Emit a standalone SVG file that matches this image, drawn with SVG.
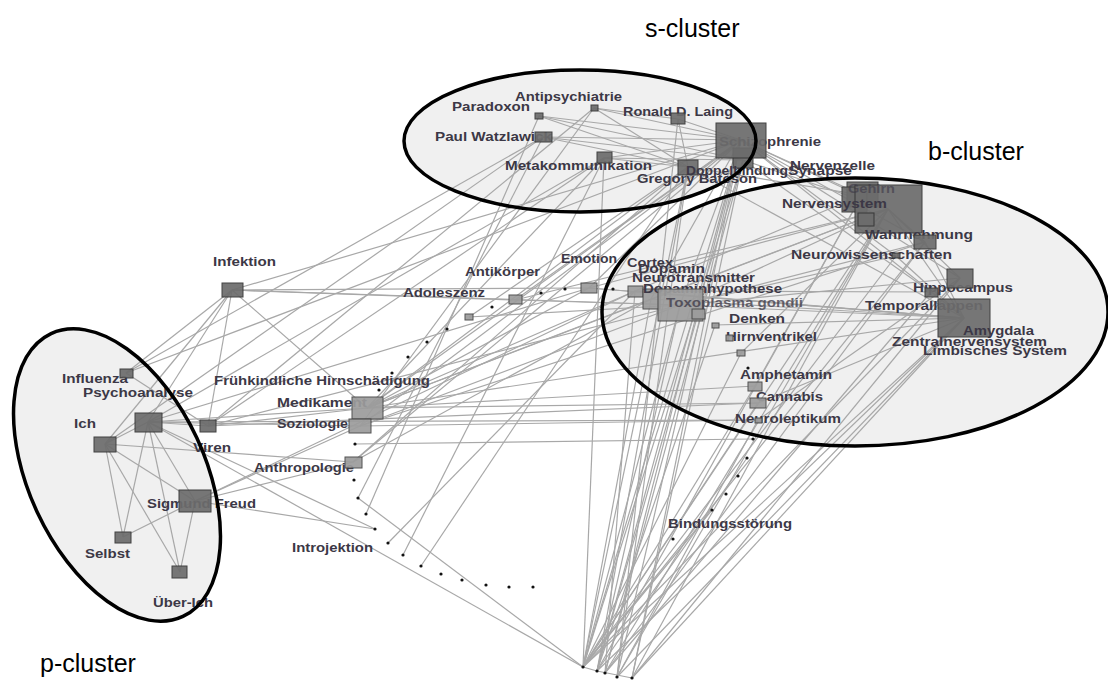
<svg xmlns="http://www.w3.org/2000/svg" width="1108" height="680" viewBox="0 0 1108 680">
<style>
.cf{fill:#f0f0f0;stroke:none}
.co{fill:none;stroke:#000;stroke-width:3.5}
.e line{stroke:#a8a8a8;stroke-width:1.2}
.d{fill:#6c6c6c;stroke:#333;stroke-width:1;opacity:0.92}
.l{fill:#9c9c9c;stroke:#444;stroke-width:1;opacity:0.92}
.t{font-family:"Liberation Sans",Arial,sans-serif;font-weight:bold;font-size:13px;fill:#3c3846}
.cl{font-family:"Liberation Sans",Arial,sans-serif;font-size:25px;fill:#000}
.dot{fill:#111}
</style>
<rect width="1108" height="680" fill="#fff"/>
<ellipse class="cf" cx="580" cy="141" rx="176" ry="71"/>
<ellipse class="cf" cx="855" cy="312" rx="253" ry="134"/>
<ellipse class="cf" cx="117" cy="475" rx="156" ry="88" transform="rotate(65 117 475)"/>
<g id="connectors" class="e">
<line x1="148" y1="422" x2="105" y2="444"/><line x1="148" y1="422" x2="123" y2="537"/><line x1="148" y1="422" x2="180" y2="572"/><line x1="148" y1="422" x2="195" y2="501"/>
<line x1="105" y1="444" x2="123" y2="537"/><line x1="105" y1="444" x2="180" y2="572"/><line x1="105" y1="444" x2="195" y2="501"/>
<line x1="195" y1="501" x2="180" y2="572"/><line x1="195" y1="501" x2="123" y2="537"/>
<line x1="126" y1="373" x2="208" y2="426"/><line x1="126" y1="373" x2="741" y2="140"/><line x1="126" y1="373" x2="543" y2="137"/><line x1="126" y1="373" x2="232" y2="290"/>
<line x1="148" y1="422" x2="208" y2="426"/><line x1="148" y1="422" x2="589" y2="288"/><line x1="148" y1="422" x2="367" y2="408"/><line x1="148" y1="422" x2="360" y2="426"/><line x1="148" y1="422" x2="583" y2="667"/><line x1="148" y1="422" x2="604" y2="158"/><line x1="148" y1="422" x2="375" y2="529"/><line x1="148" y1="422" x2="758" y2="420"/>
<line x1="105" y1="444" x2="543" y2="137"/><line x1="105" y1="444" x2="353" y2="462"/><line x1="105" y1="444" x2="232" y2="290"/>
<line x1="195" y1="501" x2="375" y2="529"/><line x1="195" y1="501" x2="353" y2="462"/><line x1="195" y1="501" x2="360" y2="426"/><line x1="195" y1="501" x2="635" y2="291"/>
<line x1="208" y1="426" x2="680" y2="305"/><line x1="208" y1="426" x2="367" y2="408"/><line x1="208" y1="426" x2="604" y2="158"/><line x1="208" y1="426" x2="594" y2="108"/><line x1="208" y1="426" x2="758" y2="403"/>
<line x1="232" y1="290" x2="589" y2="288"/><line x1="232" y1="290" x2="515" y2="300"/><line x1="232" y1="290" x2="680" y2="305"/><line x1="232" y1="290" x2="741" y2="140"/><line x1="232" y1="290" x2="208" y2="426"/><line x1="232" y1="290" x2="367" y2="408"/><line x1="232" y1="290" x2="148" y2="422"/>
<line x1="367" y1="408" x2="635" y2="291"/><line x1="367" y1="408" x2="589" y2="288"/><line x1="367" y1="408" x2="651" y2="299"/><line x1="367" y1="408" x2="888" y2="209"/><line x1="367" y1="408" x2="758" y2="403"/><line x1="367" y1="408" x2="755" y2="386"/><line x1="367" y1="408" x2="964" y2="318"/><line x1="367" y1="408" x2="604" y2="158"/><line x1="367" y1="408" x2="741" y2="140"/><line x1="367" y1="408" x2="688" y2="167"/>
<line x1="360" y1="426" x2="680" y2="305"/><line x1="360" y1="426" x2="741" y2="140"/><line x1="360" y1="426" x2="758" y2="420"/><line x1="360" y1="426" x2="594" y2="108"/><line x1="360" y1="426" x2="925" y2="242"/>
<line x1="353" y1="462" x2="688" y2="167"/><line x1="353" y1="462" x2="741" y2="140"/><line x1="353" y1="462" x2="651" y2="299"/>
<line x1="355" y1="444" x2="753" y2="439"/><line x1="366" y1="514" x2="539" y2="116"/><line x1="388" y1="543" x2="635" y2="291"/><line x1="403" y1="555" x2="604" y2="158"/><line x1="358" y1="498" x2="583" y2="667"/><line x1="358" y1="498" x2="543" y2="137"/><line x1="421" y1="566" x2="688" y2="167"/>
<line x1="741" y1="140" x2="539" y2="116"/><line x1="741" y1="140" x2="594" y2="108"/><line x1="741" y1="140" x2="543" y2="137"/><line x1="741" y1="140" x2="604" y2="158"/><line x1="741" y1="140" x2="678" y2="119"/><line x1="594" y1="108" x2="678" y2="119"/><line x1="594" y1="108" x2="688" y2="167"/><line x1="539" y1="116" x2="688" y2="167"/><line x1="543" y1="137" x2="688" y2="167"/><line x1="543" y1="137" x2="743" y2="160"/><line x1="604" y1="158" x2="688" y2="167"/><line x1="604" y1="158" x2="743" y2="160"/><line x1="678" y1="119" x2="688" y2="167"/><line x1="539" y1="116" x2="743" y2="160"/>
<line x1="741" y1="140" x2="888" y2="209"/><line x1="741" y1="140" x2="925" y2="242"/><line x1="741" y1="140" x2="960" y2="278"/><line x1="741" y1="140" x2="964" y2="318"/><line x1="741" y1="140" x2="896" y2="256"/><line x1="741" y1="140" x2="862" y2="195"/><line x1="743" y1="160" x2="888" y2="209"/><line x1="688" y1="167" x2="862" y2="195"/><line x1="743" y1="160" x2="931" y2="292"/><line x1="688" y1="167" x2="964" y2="318"/>
<line x1="888" y1="209" x2="680" y2="305"/><line x1="888" y1="209" x2="651" y2="299"/><line x1="862" y1="195" x2="635" y2="291"/><line x1="888" y1="209" x2="589" y2="288"/><line x1="888" y1="209" x2="960" y2="278"/><line x1="888" y1="209" x2="964" y2="318"/><line x1="888" y1="209" x2="925" y2="242"/><line x1="862" y1="195" x2="755" y2="386"/><line x1="888" y1="209" x2="741" y2="353"/><line x1="925" y1="242" x2="680" y2="305"/><line x1="925" y1="242" x2="964" y2="318"/><line x1="896" y1="256" x2="964" y2="318"/><line x1="896" y1="256" x2="680" y2="305"/>
<line x1="964" y1="318" x2="680" y2="305"/><line x1="964" y1="318" x2="651" y2="299"/><line x1="964" y1="318" x2="589" y2="288"/><line x1="960" y1="278" x2="680" y2="305"/><line x1="964" y1="318" x2="715" y2="325"/><line x1="931" y1="292" x2="635" y2="291"/><line x1="964" y1="318" x2="758" y2="403"/><line x1="960" y1="278" x2="758" y2="420"/>
<line x1="680" y1="305" x2="741" y2="140"/><line x1="651" y1="299" x2="741" y2="140"/><line x1="589" y1="288" x2="741" y2="140"/><line x1="515" y1="300" x2="741" y2="140"/><line x1="469" y1="317" x2="688" y2="167"/><line x1="515" y1="300" x2="888" y2="209"/><line x1="589" y1="288" x2="964" y2="318"/><line x1="635" y1="291" x2="964" y2="318"/><line x1="515" y1="300" x2="680" y2="305"/><line x1="469" y1="317" x2="680" y2="305"/>
<line x1="583" y1="667" x2="741" y2="140"/><line x1="583" y1="667" x2="688" y2="167"/><line x1="583" y1="667" x2="743" y2="160"/><line x1="583" y1="667" x2="604" y2="158"/><line x1="583" y1="667" x2="888" y2="209"/><line x1="583" y1="667" x2="925" y2="242"/><line x1="583" y1="667" x2="960" y2="278"/><line x1="583" y1="667" x2="964" y2="318"/><line x1="583" y1="667" x2="680" y2="305"/><line x1="583" y1="667" x2="651" y2="299"/><line x1="583" y1="667" x2="755" y2="386"/><line x1="583" y1="667" x2="758" y2="403"/><line x1="583" y1="667" x2="896" y2="256"/><line x1="583" y1="667" x2="741" y2="353"/><line x1="583" y1="667" x2="712" y2="510"/>
<line x1="597" y1="671" x2="741" y2="140"/><line x1="597" y1="671" x2="688" y2="167"/><line x1="597" y1="671" x2="862" y2="195"/><line x1="597" y1="671" x2="964" y2="318"/><line x1="597" y1="671" x2="680" y2="305"/><line x1="597" y1="671" x2="698" y2="314"/><line x1="597" y1="671" x2="715" y2="325"/><line x1="597" y1="671" x2="747" y2="458"/>
<line x1="605" y1="673" x2="741" y2="140"/><line x1="605" y1="673" x2="743" y2="160"/><line x1="605" y1="673" x2="925" y2="242"/><line x1="605" y1="673" x2="931" y2="292"/><line x1="605" y1="673" x2="635" y2="291"/><line x1="605" y1="673" x2="888" y2="209"/>
<line x1="617" y1="677" x2="741" y2="140"/><line x1="617" y1="677" x2="688" y2="167"/><line x1="617" y1="677" x2="888" y2="209"/><line x1="617" y1="677" x2="758" y2="420"/><line x1="617" y1="677" x2="678" y2="119"/><line x1="617" y1="677" x2="964" y2="318"/>
<line x1="632" y1="678" x2="743" y2="160"/><line x1="632" y1="678" x2="964" y2="318"/><line x1="632" y1="678" x2="960" y2="278"/><line x1="632" y1="678" x2="888" y2="209"/><line x1="632" y1="678" x2="741" y2="140"/>
<line x1="583" y1="667" x2="597" y2="671"/><line x1="597" y1="671" x2="632" y2="678"/>
</g>
<g id="dots">
<circle class="dot" cx="565" cy="289" r="1.6"/><circle class="dot" cx="613" cy="289" r="1.6"/><circle class="dot" cx="541" cy="293" r="1.6"/><circle class="dot" cx="492" cy="307" r="1.6"/><circle class="dot" cx="447" cy="329" r="1.6"/><circle class="dot" cx="427" cy="342" r="1.6"/><circle class="dot" cx="408" cy="357" r="1.6"/><circle class="dot" cx="392" cy="373" r="1.6"/><circle class="dot" cx="379" cy="390" r="1.6"/>
<circle class="dot" cx="355" cy="444" r="1.6"/><circle class="dot" cx="354" cy="480" r="1.6"/><circle class="dot" cx="358" cy="498" r="1.6"/><circle class="dot" cx="366" cy="514" r="1.6"/><circle class="dot" cx="375" cy="529" r="1.6"/><circle class="dot" cx="388" cy="543" r="1.6"/><circle class="dot" cx="403" cy="555" r="1.6"/><circle class="dot" cx="421" cy="566" r="1.6"/><circle class="dot" cx="441" cy="574" r="1.6"/><circle class="dot" cx="462" cy="580" r="1.6"/><circle class="dot" cx="486" cy="585" r="1.6"/><circle class="dot" cx="509" cy="587" r="1.6"/><circle class="dot" cx="533" cy="587" r="1.6"/>
<circle class="dot" cx="583" cy="667" r="1.6"/><circle class="dot" cx="597" cy="671" r="1.6"/><circle class="dot" cx="605" cy="673" r="1.6"/><circle class="dot" cx="617" cy="677" r="1.6"/><circle class="dot" cx="632" cy="678" r="1.6"/>
<circle class="dot" cx="748" cy="368" r="1.6"/><circle class="dot" cx="753" cy="439" r="1.6"/><circle class="dot" cx="747" cy="458" r="1.6"/><circle class="dot" cx="738" cy="476" r="1.6"/><circle class="dot" cx="726" cy="494" r="1.6"/><circle class="dot" cx="712" cy="510" r="1.6"/><circle class="dot" cx="673" cy="539" r="1.6"/>
</g>
<g id="n-antipsychiatrie"><text class="t" x="515" y="101" textLength="107" lengthAdjust="spacingAndGlyphs">Antipsychiatrie</text><rect class="d" x="591" y="105" width="7" height="6"/></g>
<g id="n-paradoxon"><text class="t" x="452" y="111" textLength="78" lengthAdjust="spacingAndGlyphs">Paradoxon</text><rect class="d" x="535" y="113" width="8" height="6"/></g>
<g id="n-laing"><text class="t" x="623" y="116" textLength="110" lengthAdjust="spacingAndGlyphs">Ronald D. Laing</text><rect class="d" x="671" y="113" width="14" height="11"/></g>
<g id="n-watzlawick"><text class="t" x="435" y="141" textLength="117" lengthAdjust="spacingAndGlyphs">Paul Watzlawick</text><rect class="d" x="535" y="132" width="17" height="10"/></g>
<g id="n-synapse"><rect class="d" x="733" y="148" width="20" height="20"/><text class="t" x="788" y="175" textLength="64" lengthAdjust="spacingAndGlyphs">Synapse</text></g>
<g id="n-schizophrenie"><text class="t" x="719" y="146" textLength="102" lengthAdjust="spacingAndGlyphs">Schizophrenie</text><rect class="d" x="716" y="123" width="50" height="35"/></g>
<g id="n-metakommunikation"><text class="t" x="505" y="170" textLength="147" lengthAdjust="spacingAndGlyphs">Metakommunikation</text><rect class="d" x="597" y="152" width="15" height="11"/></g>
<g id="n-doppelbindung"><rect class="d" x="678" y="160" width="20" height="15"/><text class="t" x="686" y="175" textLength="102" lengthAdjust="spacingAndGlyphs">Doppelbindung</text></g>
<g id="n-bateson"><text class="t" x="637" y="183" textLength="120" lengthAdjust="spacingAndGlyphs">Gregory Bateson</text></g>
<g id="n-nervenzelle"><text class="t" x="790" y="170" textLength="85" lengthAdjust="spacingAndGlyphs">Nervenzelle</text></g>
<g id="n-gehirn"><rect class="d" x="847" y="182" width="31" height="25"/><rect class="d" x="842" y="187" width="25" height="25"/><rect class="d" x="855" y="185" width="67" height="48"/><rect class="d" x="858" y="213" width="16" height="13"/><text class="t" x="848" y="193" textLength="47" lengthAdjust="spacingAndGlyphs" opacity="0.6">Gehirn</text></g>
<g id="n-nervensystem"><text class="t" x="782" y="208" textLength="105" lengthAdjust="spacingAndGlyphs">Nervensystem</text></g>
<g id="n-wahrnehmung"><text class="t" x="865" y="239" textLength="108" lengthAdjust="spacingAndGlyphs">Wahrnehmung</text><rect class="d" x="914" y="235" width="22" height="14"/></g>
<g id="n-neurowissenschaften"><text class="t" x="791" y="259" textLength="161" lengthAdjust="spacingAndGlyphs">Neurowissenschaften</text><rect class="d" x="892" y="253" width="8" height="5"/></g>
<g id="n-hippocampus"><text class="t" x="913" y="292" textLength="100" lengthAdjust="spacingAndGlyphs">Hippocampus</text><rect class="d" x="947" y="269" width="26" height="19"/><rect class="d" x="925" y="288" width="13" height="9"/></g>
<g id="n-temporallappen"><text class="t" x="865" y="310" textLength="118" lengthAdjust="spacingAndGlyphs">Temporallappen</text><rect class="d" x="938" y="299" width="52" height="38"/></g>
<g id="n-amygdala"><text class="t" x="963" y="335" textLength="71" lengthAdjust="spacingAndGlyphs">Amygdala</text></g>
<g id="n-zns"><text class="t" x="892" y="346" textLength="155" lengthAdjust="spacingAndGlyphs">Zentralnervensystem</text></g>
<g id="n-limbisch"><text class="t" x="923" y="355" textLength="144" lengthAdjust="spacingAndGlyphs">Limbisches System</text></g>
<g id="n-emotion"><text class="t" x="561" y="263" textLength="56" lengthAdjust="spacingAndGlyphs">Emotion</text><rect class="l" x="581" y="283" width="16" height="10"/></g>
<g id="n-cortex"><text class="t" x="627" y="267" textLength="46" lengthAdjust="spacingAndGlyphs">Cortex</text><rect class="l" x="628" y="286" width="15" height="11"/></g>
<g id="n-dopamin"><text class="t" x="638" y="273" textLength="67" lengthAdjust="spacingAndGlyphs">Dopamin</text></g>
<g id="n-neurotransmitter"><text class="t" x="632" y="282" textLength="123" lengthAdjust="spacingAndGlyphs">Neurotransmitter</text><rect class="l" x="643" y="289" width="17" height="20"/></g>
<g id="n-dopaminhypothese"><text class="t" x="643" y="293" textLength="139" lengthAdjust="spacingAndGlyphs">Dopaminhypothese</text></g>
<g id="n-toxoplasma"><rect class="l" x="658" y="289" width="45" height="32"/><text class="t" x="666" y="307" textLength="137" lengthAdjust="spacingAndGlyphs" opacity="0.75">Toxoplasma gondii</text><rect class="l" x="692" y="309" width="13" height="10"/></g>
<g id="n-denken"><text class="t" x="729" y="323" textLength="56" lengthAdjust="spacingAndGlyphs">Denken</text><rect class="l" x="712" y="323" width="7" height="5"/></g>
<g id="n-hirnventrikel"><text class="t" x="726" y="341" textLength="91" lengthAdjust="spacingAndGlyphs">Hirnventrikel</text><rect class="l" x="726" y="335" width="7" height="6"/><rect class="l" x="737" y="350" width="8" height="6"/></g>
<g id="n-amphetamin"><text class="t" x="740" y="379" textLength="92" lengthAdjust="spacingAndGlyphs">Amphetamin</text><rect class="l" x="748" y="382" width="14" height="9"/></g>
<g id="n-cannabis"><text class="t" x="756" y="401" textLength="67" lengthAdjust="spacingAndGlyphs">Cannabis</text><rect class="l" x="750" y="398" width="16" height="10"/></g>
<g id="n-neuroleptikum"><text class="t" x="735" y="423" textLength="106" lengthAdjust="spacingAndGlyphs">Neuroleptikum</text><rect class="l" x="755" y="418" width="7" height="5"/></g>
<g id="n-antikoerper"><text class="t" x="465" y="276" textLength="75" lengthAdjust="spacingAndGlyphs">Antikörper</text><rect class="l" x="465" y="314" width="8" height="6"/></g>
<g id="n-adoleszenz"><text class="t" x="403" y="297" textLength="82" lengthAdjust="spacingAndGlyphs">Adoleszenz</text><rect class="l" x="509" y="295" width="13" height="9"/></g>
<g id="n-infektion"><text class="t" x="213" y="266" textLength="63" lengthAdjust="spacingAndGlyphs">Infektion</text><rect class="d" x="222" y="283" width="21" height="14"/></g>
<g id="n-fruehkindlich"><text class="t" x="214" y="385" textLength="216" lengthAdjust="spacingAndGlyphs">Frühkindliche Hirnschädigung</text></g>
<g id="n-medikament"><text class="t" x="277" y="407" textLength="90" lengthAdjust="spacingAndGlyphs">Medikament</text><rect class="l" x="352" y="397" width="31" height="22"/></g>
<g id="n-soziologie"><text class="t" x="277" y="428" textLength="71" lengthAdjust="spacingAndGlyphs">Soziologie</text><rect class="l" x="349" y="419" width="22" height="14"/></g>
<g id="n-anthropologie"><text class="t" x="254" y="472" textLength="100" lengthAdjust="spacingAndGlyphs">Anthropologie</text><rect class="l" x="345" y="457" width="17" height="11"/></g>
<g id="n-introjektion"><text class="t" x="292" y="552" textLength="81" lengthAdjust="spacingAndGlyphs">Introjektion</text></g>
<g id="n-bindungsstoerung"><text class="t" x="668" y="528" textLength="124" lengthAdjust="spacingAndGlyphs">Bindungsstörung</text></g>
<g id="n-influenza"><text class="t" x="62" y="383" textLength="66" lengthAdjust="spacingAndGlyphs">Influenza</text><rect class="d" x="120" y="369" width="13" height="9"/></g>
<g id="n-psychoanalyse"><text class="t" x="83" y="397" textLength="110" lengthAdjust="spacingAndGlyphs">Psychoanalyse</text><rect class="d" x="135" y="413" width="27" height="19"/></g>
<g id="n-ich"><text class="t" x="74" y="428" textLength="22" lengthAdjust="spacingAndGlyphs">Ich</text><rect class="d" x="94" y="437" width="22" height="15"/></g>
<g id="n-viren"><text class="t" x="193" y="452" textLength="38" lengthAdjust="spacingAndGlyphs">Viren</text><rect class="d" x="200" y="420" width="16" height="12"/></g>
<g id="n-freud"><text class="t" x="147" y="508" textLength="109" lengthAdjust="spacingAndGlyphs">Sigmund Freud</text><rect class="d" x="179" y="490" width="32" height="22"/></g>
<g id="n-selbst"><text class="t" x="85" y="558" textLength="45" lengthAdjust="spacingAndGlyphs">Selbst</text><rect class="d" x="115" y="532" width="16" height="11"/></g>
<g id="n-ueberich"><text class="t" x="153" y="607" textLength="60" lengthAdjust="spacingAndGlyphs">Über-Ich</text><rect class="d" x="172" y="566" width="15" height="12"/></g>
<g id="clusters">
<ellipse class="co" cx="580" cy="141" rx="176" ry="71"/>
<ellipse class="co" cx="855" cy="312" rx="253" ry="134"/>
<ellipse class="co" cx="117" cy="475" rx="156" ry="88" transform="rotate(65 117 475)"/>
<text class="cl" x="645" y="37">s-cluster</text>
<text class="cl" x="928" y="160">b-cluster</text>
<text class="cl" x="40" y="672">p-cluster</text>
</g>
</svg>
